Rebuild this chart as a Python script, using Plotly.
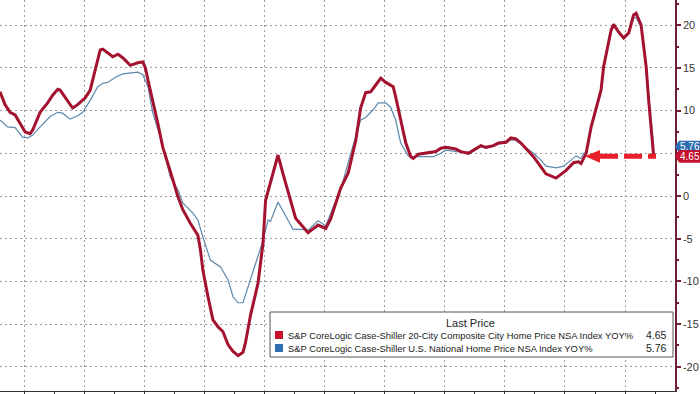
import plotly.graph_objects as go

# ---------------- data ----------------
red_dates = ["2001-03", "2001-05", "2001-07", "2001-09", "2001-11", "2002-01", "2002-03", "2002-04",
             "2002-07", "2002-10", "2002-12", "2003-02", "2003-03", "2003-06", "2003-08", "2003-10",
             "2004-01", "2004-03", "2004-05", "2004-07", "2004-08", "2004-10", "2004-12", "2005-02",
             "2005-04", "2005-07", "2005-10", "2005-12", "2006-01", "2006-02", "2006-04", "2006-06",
             "2006-08", "2006-10", "2006-12", "2007-02", "2007-04", "2007-07", "2007-10", "2007-11",
             "2007-12", "2008-02", "2008-04", "2008-06", "2008-08", "2008-10", "2008-12", "2009-02",
             "2009-04", "2009-05", "2009-07", "2009-10", "2009-12", "2010-01", "2010-04", "2010-06",
             "2010-08", "2010-11", "2011-01", "2011-06", "2011-10", "2012-01", "2012-03", "2012-07",
             "2012-10", "2013-01", "2013-02", "2013-03", "2013-05", "2013-07", "2013-09", "2013-11",
             "2014-01", "2014-04", "2014-05", "2014-07", "2014-09", "2014-11", "2014-12", "2015-02",
             "2015-05", "2015-09", "2015-11", "2016-01", "2016-05", "2016-07", "2016-10", "2016-12",
             "2017-03", "2017-05", "2017-08", "2017-10", "2018-01", "2018-03", "2018-05", "2018-07",
             "2018-09", "2018-12", "2019-03", "2019-05", "2019-09", "2019-11", "2020-01", "2020-04",
             "2020-06", "2020-07", "2020-09", "2020-11", "2021-01", "2021-03", "2021-04", "2021-07",
             "2021-08", "2021-10", "2021-12", "2022-02", "2022-04", "2022-05", "2022-07", "2022-09",
             "2022-10", "2022-11", "2022-12"]
red_vals = [12.2, 10.7, 9.8, 9.5, 8.5, 7.5, 7.3, 7.7,
            9.8, 10.9, 11.8, 12.5, 12.4, 11.2, 10.3, 10.7,
            11.5, 12.4, 14.8, 17.1, 17.2, 16.7, 16.3, 16.6,
            16.2, 15.3, 15.6, 15.7, 15.0, 13.6, 11.2, 8.5,
            5.7, 3.9, 1.9, -0.1, -1.6, -3.2, -4.6, -6.3,
            -8.7, -11.8, -14.5, -15.3, -15.9, -17.4, -18.2, -18.7,
            -18.3, -17.2, -14.0, -10.2, -5.5, -0.5, 2.7, 4.8,
            2.6, -0.5, -2.6, -4.3, -3.4, -3.8, -2.7, 0.9,
            2.7, 6.5, 8.5, 10.3, 12.1, 12.2, 13.0, 13.8,
            13.3, 12.8, 11.6, 8.9, 6.2, 4.6, 4.4, 4.9,
            5.0, 5.2, 5.6, 5.7, 5.5, 5.2, 5.0, 5.4,
            5.9, 5.7, 5.9, 6.2, 6.3, 6.8, 6.7, 6.2,
            5.6, 4.6, 3.4, 2.6, 2.1, 2.5, 3.0, 3.9,
            4.0, 3.8, 5.0, 8.1, 10.4, 12.4, 15.1, 19.4,
            20.1, 19.2, 18.5, 19.1, 21.2, 21.4, 20.0, 15.1,
            11.2, 8.1, 4.65]

blue_dates = ["2001-03", "2001-06", "2001-09", "2001-12", "2002-02", "2002-04", "2002-07", "2002-11",
              "2003-02", "2003-04", "2003-07", "2003-10", "2003-12", "2004-03", "2004-06", "2004-08",
              "2004-10", "2005-01", "2005-04", "2005-07", "2005-10", "2005-12", "2006-02", "2006-04",
              "2006-07", "2006-09", "2006-11", "2007-02", "2007-04", "2007-08", "2007-10", "2007-12",
              "2008-03", "2008-07", "2008-10", "2008-12", "2009-02", "2009-04", "2009-06", "2009-08",
              "2009-12", "2010-02", "2010-03", "2010-06", "2010-09", "2010-12", "2011-03", "2011-06",
              "2011-10", "2012-01", "2012-04", "2012-07", "2012-11", "2013-03", "2013-05", "2013-08",
              "2013-10", "2014-01", "2014-03", "2014-05", "2014-07", "2014-10", "2014-12", "2015-04",
              "2015-08", "2015-11", "2016-01", "2016-05", "2016-11", "2017-03", "2017-05", "2017-08",
              "2017-10", "2018-01", "2018-03", "2018-05", "2018-07", "2018-09", "2018-12", "2019-03",
              "2019-05", "2019-09", "2019-12", "2020-03", "2020-05", "2020-07", "2020-08", "2020-09",
              "2020-11", "2021-01", "2021-03", "2021-04", "2021-07", "2021-08", "2021-10", "2021-12",
              "2022-02", "2022-04", "2022-05", "2022-07", "2022-09", "2022-10", "2022-11", "2022-12"]
blue_vals = [8.9, 8.1, 8.0, 6.9, 6.8, 7.1, 8.1, 9.3,
             9.8, 9.7, 9.0, 9.4, 9.8, 11.2, 12.8, 13.2,
             13.3, 13.9, 14.3, 14.4, 14.5, 14.2, 12.8, 9.7,
             6.9, 4.6, 2.2, 0.7, -0.8, -2.0, -2.8, -4.8,
             -7.5, -8.3, -9.8, -11.8, -12.5, -12.5, -10.7, -9.0,
             -5.2, -2.8, -3.0, -0.7, -2.3, -3.9, -3.9, -4.0,
             -2.9, -3.5, -1.3, 0.7, 5.0, 8.9, 9.2, 10.1,
             10.9, 10.9, 10.4, 8.9, 6.2, 4.7, 4.6, 4.6,
             4.6, 5.0, 5.4, 5.2, 5.1, 5.8, 5.6, 5.8,
             6.1, 6.2, 6.6, 6.5, 6.1, 5.6, 5.0, 4.2,
             3.5, 3.3, 3.5, 4.2, 4.7, 4.4, 5.0, 5.1,
             8.0, 10.3, 12.3, 15.0, 19.2, 20.0, 19.1, 18.6,
             19.2, 20.8, 20.9, 19.8, 15.3, 11.8, 8.8, 5.76]

y_ticks = [-20, -15, -10, -5, 0, 5, 10, 15, 20]
legend_title = "Last Price"
red_name = "S&P CoreLogic Case-Shiller 20-City Composite City Home Price NSA Index YOY%"
blue_name = "S&P CoreLogic Case-Shiller U.S. National Home Price NSA Index YOY%"
red_last = 4.65
blue_last = 5.76

# ---------------- styling ----------------
RED = "#a3122f"
BLUE = "#5d88ab"
ARROW_RED = "#e8202a"
TAG_RED = "#c8102e"
TAG_BLUE = "#2f6db3"
AXIS = "#6e1f33"
GRID = "#9a9a9a"
FONT = "Liberation Sans"

def mid_month(lst):
    return [d + "-15" for d in lst]

rx = mid_month(red_dates)
bx = mid_month(blue_dates)

fig = go.Figure()
fig.add_trace(go.Scatter(x=bx, y=blue_vals, mode="lines", line=dict(color=BLUE, width=1.2),
                         name=blue_name, showlegend=False, hoverinfo="skip"))
fig.add_trace(go.Scatter(x=rx, y=red_vals, mode="lines", line=dict(color=RED, width=3),
                         name=red_name, showlegend=False, hoverinfo="skip"))

W_PLOT = 675.0
H_PLOT = 391.0
shapes = []
annotations = []

# dashed arrow pointing at the last value
shapes.append(dict(type="line", xref="paper", yref="y", x0=600 / W_PLOT, x1=656 / W_PLOT,
                   y0=red_last, y1=red_last, line=dict(color=ARROW_RED, width=5, dash="18px,6px"),
                   layer="above"))
shapes.append(dict(type="path", xref="paper", yref="y", layer="above",
                   path=f"M {585/W_PLOT} {red_last} L {600/W_PLOT} {red_last+0.75} L {600/W_PLOT} {red_last-0.75} Z",
                   fillcolor=ARROW_RED, line=dict(width=0)))

# last-value tags on the right axis
def tag(val, color):
    x0, xt, x1 = 1.0, 1.0 + 4 / W_PLOT, 1.0 + 25 / W_PLOT
    h = 0.72
    return dict(type="path", xref="paper", yref="y", layer="above",
                path=f"M {x0} {val} L {xt} {val+h} L {x1} {val+h} L {x1} {val-h} L {xt} {val-h} Z",
                fillcolor=color, line=dict(width=0))

shapes.append(tag(blue_last, TAG_BLUE))
shapes.append(tag(red_last, TAG_RED))
annotations.append(dict(xref="paper", yref="y", x=1.0 + 14.5 / W_PLOT, y=blue_last, text=f"{blue_last:.2f}",
                        showarrow=False, font=dict(family=FONT, size=10, color="white"), xanchor="center"))
annotations.append(dict(xref="paper", yref="y", x=1.0 + 14.5 / W_PLOT, y=red_last, text=f"{red_last:.2f}",
                        showarrow=False, font=dict(family=FONT, size=10, color="white"), xanchor="center",
                        bgcolor=TAG_RED, borderpad=0))

# legend box
def py(p):
    return (H_PLOT - p) / H_PLOT

shapes.append(dict(type="rect", xref="paper", yref="paper", x0=270 / W_PLOT, x1=673 / W_PLOT,
                   y0=py(357), y1=py(312), fillcolor="white", line=dict(color="#555", width=1),
                   layer="above"))
annotations.append(dict(xref="paper", yref="paper", x=470 / W_PLOT, y=py(323), text=legend_title,
                        showarrow=False, font=dict(family=FONT, size=11, color="#222"),
                        xanchor="center", yanchor="middle"))
for row_y, color, name, val in [(335, TAG_RED, red_name, red_last), (348, TAG_BLUE, blue_name, blue_last)]:
    shapes.append(dict(type="rect", xref="paper", yref="paper", x0=275 / W_PLOT, x1=283 / W_PLOT,
                       y0=py(row_y + 4), y1=py(row_y - 4), fillcolor=color, line=dict(width=0),
                       layer="above"))
    annotations.append(dict(xref="paper", yref="paper", x=286 / W_PLOT, y=py(row_y), text=name,
                            showarrow=False, font=dict(family=FONT, size=9.4, color="#222"),
                            xanchor="left", yanchor="middle"))
    annotations.append(dict(xref="paper", yref="paper", x=669 / W_PLOT, y=py(row_y), text=f"{val:.2f}",
                            showarrow=False, font=dict(family=FONT, size=10.5, color="#222"),
                            xanchor="right", yanchor="middle"))

fig.update_layout(
    width=700, height=394,
    margin=dict(l=0, r=25, t=0, b=3),
    paper_bgcolor="white", plot_bgcolor="white",
    showlegend=False,
    shapes=shapes, annotations=annotations,
    font=dict(family=FONT, size=11, color="#333"),
)
fig.update_xaxes(
    type="date", range=["2001-03-15", "2023-08-31"],
    tick0="2002-01-01", dtick="M24", showticklabels=False,
    showgrid=True, gridcolor=GRID, griddash="2px,3px", gridwidth=1,
    ticks="outside", ticklen=4, tickcolor="#333",
    minor=dict(dtick="M12", tick0="2001-01-01", ticks="outside", ticklen=4, tickcolor="#333", showgrid=False),
    showline=True, linecolor="#333", linewidth=1, zeroline=False,
)
fig.update_yaxes(
    side="right", range=[-22.83, 22.95],
    tickvals=y_ticks, ticktext=[str(v) for v in y_ticks],
    showgrid=True, gridcolor=GRID, griddash="2px,3px", gridwidth=1,
    ticks="outside", ticklen=4, tickwidth=2, tickcolor=AXIS,
    minor=dict(dtick=2.5, tick0=0, ticks="outside", ticklen=2, tickcolor=AXIS, showgrid=False),
    showline=True, linecolor=AXIS, linewidth=1.5, zeroline=False,
    tickfont=dict(family=FONT, size=11, color="#333"),
)

fig.write_html("out.html", config={"displayModeBar": False},
               post_script="document.body.style.margin='0';document.body.style.overflow='hidden';")
